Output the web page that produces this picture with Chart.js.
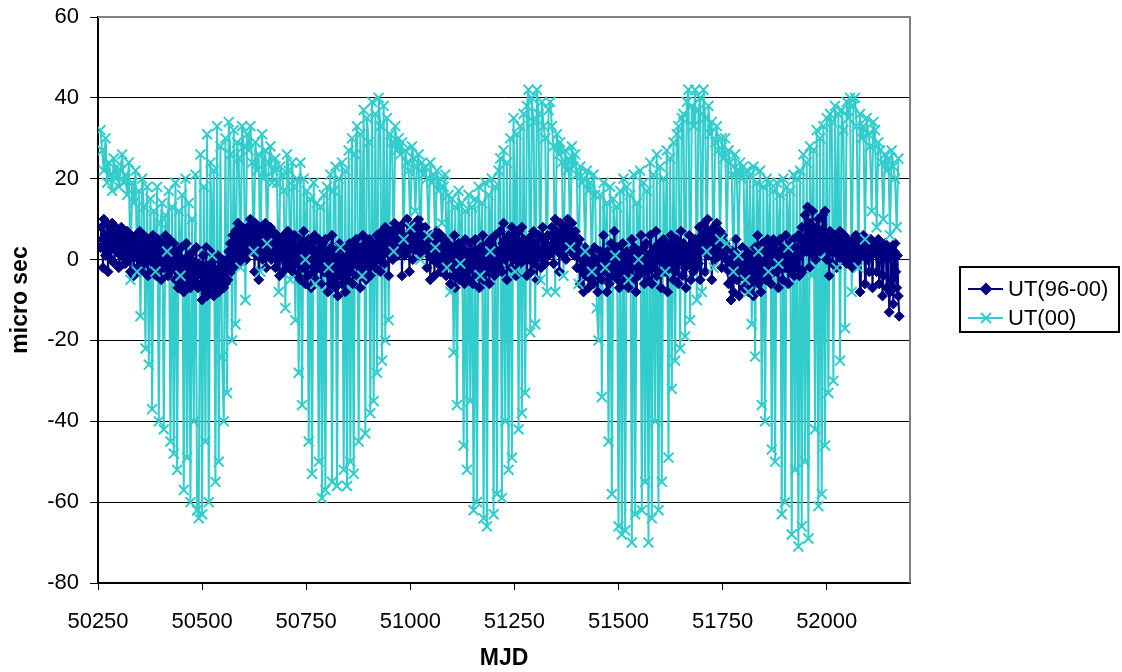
<!DOCTYPE html>
<html>
<head>
<meta charset="utf-8">
<script src="https://cdn.jsdelivr.net/npm/chart.js@4.4.1/dist/chart.umd.min.js"></script>
<style>
    html, body { margin: 0; padding: 0; background: #fff; }
    #wrap { width: 1122px; height: 672px; position: relative; }
</style>
</head>
<body>
<div id="wrap"><canvas id="chart"></canvas></div>
<script>
// Sampling grids (MJD)
const mjdStart = 50256;
const ut9600Step = 2;   // every 2 days
const ut00Step = 4;     // every 4 days

const seriesNames = ['UT(96-00)', 'UT(00)'];
const xTicks = [50250, 50500, 50750, 51000, 51250, 51500, 51750, 52000];
const yTicks = [-80, -60, -40, -20, 0, 20, 40, 60];

// UT(96-00), micro sec (30 values per 60 days)
const ut9600 = [
    3, 8, 5, -2, 10, 4, 1, 6, 9, -3, 2, 7, 5, 0, 9, 3, 6, -1, 8, 2, 4, 7, -2, 5, 1, 8, 3, 6, -1, 4,
    -1, 5, 7, 2, 0, 4, -3, 6, 3, 1, -4, 5, 2, 6, -2, 3, 0, 7, 1, -3, 4, 2, 6, -1, 3, 5, 0, -4, 2, 4,
    3, -3, 1, 6, -1, 4, 2, -4, 0, 5, -2, 3, 1, -5, 4, 0, -2, 2, 6, -1, 3, -4, 1, 5, -3, 0, 2, -1, 4, -2,
    -5, 2, -3, -7, 1, -4, -1, 3, -6, -2, -8, 0, -4, 4, -3, -6, 1, -2, -7, 0, -5, 2, -3, -1, -6, 3, -4, -7, -1, -3,
    -2, -6, -10, 1, -4, -7, -3, 3, -9, -1, -5, -8, 2, -4, -6, -2, -9, 0, -3, -7, -5, 1, -8, -2, -4, -6, 0, -3, -7, -1,
    -6, -3, 0, -5, 2, -1, 4, -3, 1, 6, -2, 3, 7, 0, 5, 9, 2, 6, -1, 4, 8, 1, 5, 3, 7, 0, 4, 8, 2, 6,
    10, 4, 2, 8, 6, -3, 9, 4, 1, 7, -5, 5, 8, 2, 6, 0, 7, 3, 9, -2, 5, 1, 6, 4, 8, 0, 3, 7, 2, 5,
    -2, 4, 6, 0, 3, -4, 5, 1, 2, -3, 6, 0, 4, -1, 3, 7, -2, 2, 5, 0, 4, -3, 1, 6, -1, 3, 0, -4, 2, 5,
    -5, 1, 4, -2, 7, 0, -6, 3, 1, -4, 5, -1, 2, -7, 0, 4, -3, 6, 1, -5, 2, -2, 5, -1, 3, -6, 0, 4, -3, 2,
    5, -3, 0, -8, 2, -4, -6, 3, 6, -2, -5, 1, -7, -3, 2, -9, -1, 4, -4, 0, -6, 3, -2, 1, -8, -3, 2, -5, 0, 4,
    -3, 2, 4, -6, 0, 3, -1, 5, -4, 1, 3, -2, -7, 2, 0, 6, -3, 1, 4, -5, 0, 2, -2, 5, -4, 1, 3, -1, 4, 0,
    -2, 3, 6, 0, 4, 2, -3, 5, 7, 1, 3, -1, 8, 4, 2, 6, -4, 3, 1, 7, 5, 0, 3, 9, 2, 6, 4, 1, 8, 3,
    3, 7, -4, 5, 9, 1, 4, 6, 10, 2, 5, -3, 7, 4, 8, 0, 6, 3, 9, 5, 2, 7, 10, 4, 1, 6, 8, 3, 5, 2,
    8, 3, -2, 5, 1, 4, -5, 6, 2, 0, 3, -4, 5, 2, 7, -1, 4, 1, -3, 6, 0, 3, -2, 5, 1, -4, 2, 4, 0, 1,
    -6, 0, 3, -2, -4, 6, -7, 1, -3, 2, 4, -5, 0, -2, 3, -4, 1, -6, 5, -1, 2, -3, 0, -5, 4, -2, 1, -6, 2, 0,
    5, -1, -4, 2, 0, -7, 3, 1, -2, 6, -5, 2, 0, 3, -3, 4, -1, -6, 1, 5, -2, 0, 3, -4, 6, 1, -3, 2, 0, -2,
    7, 2, -3, 4, 9, 1, 0, 5, -5, 3, 6, 1, 2, -2, 8, 4, 0, 3, 6, -4, 5, 2, 7, 1, -1, 4, 8, 2, 5, 0,
    1, 4, -4, 2, 5, 0, 3, -3, 6, 2, 7, -1, 4, 0, -5, 3, 6, 1, 2, -2, 5, 8, 0, 3, -1, 4, 2, 6, 1, 3,
    2, 6, 8, 3, -1, 5, 10, 4, 7, 2, 6, -3, 9, 5, 3, 7, 1, 4, 8, 0, 6, 10, 3, 5, 7, 2, 9, 4, 6, 1,
    7, 3, -2, 4, 1, 5, -6, 2, 0, -3, -8, 1, 3, -4, -1, 0, -7, 2, -3, -5, 1, -2, -6, 3, -4, -1, 0, -8, -3, -1,
    2, -3, -5, 1, 6, -2, -3, 0, -8, 2, 1, -6, -2, 4, -4, 0, -2, 7, -1, -4, 3, -5, 0, -7, 2, -1, -3, 4, -6, 1,
    -4, 0, 2, -3, -7, 1, 0, -2, 5, -5, 2, 3, -1, -8, 0, 1, -4, 2, -3, 6, -1, -2, 3, -6, 0, 4, -3, 1, -5, 0,
    6, -1, -6, 2, 0, -2, 3, 7, -4, 1, 0, 4, -3, -7, 2, 1, 5, -1, -3, 3, 0, -8, 2, -2, 4, 6, -1, 1, -5, 3,
    -3, 2, 5, -1, -6, 3, 2, 7, 0, -4, 4, 1, -2, -7, 3, 0, 2, 6, -1, -5, 4, 1, -3, 2, 5, -2, 0, 4, -1, 8,
    -5, 2, 6, 4, 2, 9, -3, 5, 7, 10, 1, 6, 3, 7, -5, 4, 8, 2, 0, 6, 9, 3, 5, 1, 7, 4, -2, 6, 3, 2,
    4, 0, -2, 3, -6, -3, 0, -10, -4, 2, -8, -1, -3, 5, -5, 1, -2, -9, -4, 0, -1, 3, -7, -3, 1, -5, 2, -2, -8, 0,
    -7, -2, 1, -4, -9, 0, 3, -2, -5, 6, -6, 1, 0, -8, -3, 4, -1, -3, 2, -5, 0, 5, -4, -1, 3, -6, 1, -2, 5, -3,
    4, -1, -3, 2, -7, 1, 5, -2, -1, -5, 3, 0, -2, 6, 2, 0, -6, 1, 4, -3, 2, -1, 5, -4, 0, 3, 1, -2, 6, -4,
    1, 5, 8, -3, 3, 5, 11, 4, 2, 13, 6, -2, 9, 3, 4, 12, 1, 7, 5, 0, 8, 3, 10, 6, 2, 7, 4, 11, 3, 5,
    12, 4, 0, 6, 3, -4, 7, 2, 3, -1, 5, 6, 2, 4, -2, 6, 1, 4, 7, 2, 0, 5, 3, 6, 1, 4, -1, 5, 2, 3,
    0, 3, 4, -2, 5, 2, 1, 6, 0, -1, 3, 5, -8, 2, 4, 1, 6, 3, -6, 5, 2, 0, 4, -3, 1, 5, 2, -7, 3, 4,
    2, 4, -3, 1, 5, -6, 0, 3, 2, -9, -4, 1, 4, 2, -7, 0, 2, -13, -8, 3, 1, -5, -11, 2, 4, -3, -7, 1, -9, -14
];

// UT(00), micro sec (15 values per 60 days)
const ut00 = [
    32, 27, 22, 30, 19, 24, 21, 17, 25, 20, 23, 18, 22, 26, 19,
    21, 16, 24, -5, 19, 14, 22, -3, 17, -14, 20, 13, -22, 18, -26,
    15, -37, 12, -3, 18, -40, 9, 14, -42, 11, 2, 17, -45, 13, -48,
    19, -52, 12, -4, 16, -57, 20, -49, 14, -60, 10, -40, 21, -62, -64,
    26, -63, 18, -45, 31, -60, 24, 1, 22, -55, 33, -50, 28, -24, -40,
    30, -33, 34, 26, -20, 32, -16, 29, 25, -2, 33, 28, -10, 31, 27,
    33, 24, 2, 29, 22, 26, -3, 31, 20, 27, 4, 24, 28, 19, 22,
    25, 19, -8, 23, 21, 17, -12, 26, 22, -5, 24, 18, -15, 20, -28,
    24, -36, 20, 0, 17, -45, 15, -53, 19, -6, 14, -50, 13, -59, 16,
    -57, 18, -2, 21, -55, 17, 23, -56, 20, 3, 24, -52, 22, -56, 27,
    -50, 30, -53, 26, 33, -45, 31, -4, 37, -43, 35, 29, -38, 39, -35,
    36, -28, 40, 33, -25, 38, -20, 35, -15, 31, 29, 2, 33, 27, 30,
    26, 29, 5, 27, 24, 22, 8, 28, 25, 12, 23, 26, 0, 24, 21,
    23, 20, 6, 24, 19, 21, 3, 22, 17, 20, 9, 18, 21, -2, 16,
    -8, 15, -23, 13, -36, 17, -1, 14, -46, 12, -52, 16, -35, 13, -62,
    15, -60, 18, -4, 14, -64, 19, -66, 16, 2, 20, -63, 18, -58, 22,
    25, -59, 27, -40, 24, -52, 30, -49, 35, -3, 31, -42, 33, -38, 36,
    -33, 38, 42, -18, 40, 34, -16, 42, 36, -5, 39, 33, 30, -8, 37,
    39, 33, 28, -8, 31, 26, 29, 24, -4, 27, 22, 25, 3, 28, 23,
    26, 21, -6, 23, 19, 20, 2, 22, 17, 19, -3, 21, 16, -12, -20,
    16, -34, 19, -2, 14, -45, 18, -58, 15, 1, 13, -66, 17, -68, 20,
    -67, 18, -5, 16, -70, 21, -63, 14, 0, 22, -62, 19, -55, 17, -70,
    24, -64, 21, -40, 26, -62, 23, -55, 20, -3, 27, -49, 25, -32, 29,
    -25, 31, 33, -22, 35, 36, -19, 39, 42, -15, 38, 33, 42, -10, 37,
    40, -8, 42, 35, 2, 38, 31, 34, -2, 29, 33, 27, 5, 30, 25,
    30, 4, 27, 24, 21, -3, 26, 22, 1, 24, 20, 23, -5, 22, -8,
    21, -16, 23, -24, 19, 2, 22, -36, 18, -40, 20, -3, 19, -47, 17,
    -50, 19, -1, 16, -63, 20, -60, 18, 3, 17, -68, 21, -52, 20, -71,
    22, -66, 26, -50, 24, -69, 28, -4, 27, -42, 32, -61, 30, -58, 33,
    -46, 35, -33, 36, 34, -30, 38, -2, 36, -25, 37, 32, -17, 39, 35,
    40, -8, 38, 40, 33, -2, 36, 30, 33, 5, 35, 31, 28, 12, 34,
    32, 8, 29, 27, 24, 10, 26, 22, 25, 6, 27, 23, 20, 8, 25
];

const navy = '#000080';
const cyan = '#33CCCC';

const toPoints = (vals, step) => vals.map((v, i) => ({ x: mjdStart + i * step, y: v }));

Chart.defaults.font.family = '"Liberation Sans", Arial, sans-serif';
Chart.defaults.color = '#000';

// grey plot-area frame on top and right
const plotFrame = {
    id: 'plotFrame',
    beforeDatasetsDraw(chart) {
        const { ctx, chartArea: a } = chart;
        ctx.save();
        ctx.strokeStyle = '#808080';
        ctx.lineWidth = 2;
        ctx.beginPath();
        ctx.moveTo(a.left, a.top);
        ctx.lineTo(a.right, a.top);
        ctx.lineTo(a.right, a.bottom);
        ctx.stroke();
        ctx.restore();
    }
};

// Excel-style legend: line with marker, boxed
const excelLegend = {
    id: 'excelLegend',
    afterDraw(chart) {
        const ctx = chart.ctx;
        ctx.save();
        ctx.lineWidth = 2;
        ctx.strokeStyle = '#000';
        ctx.strokeRect(960, 267, 159, 65);

        const rows = [
            { name: seriesNames[0], color: navy, style: 'rectRot', radius: 5, y: 289 },
            { name: seriesNames[1], color: cyan, style: 'crossRot', radius: 7, y: 318 }
        ];
        rows.forEach(r => {
            ctx.strokeStyle = r.color;
            ctx.fillStyle = r.color;
            ctx.lineWidth = 2;
            ctx.beginPath();
            ctx.moveTo(968, r.y);
            ctx.lineTo(1003, r.y);
            ctx.stroke();
            Chart.helpers.drawPoint(ctx, { pointStyle: r.style, radius: r.radius, rotation: 0, borderWidth: 2 }, 986, r.y);
            ctx.fillStyle = '#000';
            ctx.font = '22px "Liberation Sans", Arial, sans-serif';
            ctx.textBaseline = 'middle';
            ctx.textAlign = 'left';
            ctx.fillText(r.name, 1008, r.y + 1);
        });
        ctx.restore();
    }
};

new Chart(document.getElementById('chart'), {
    type: 'line',
    data: {
        datasets: [
            {
                // UT(00) markers, drawn on top
                label: seriesNames[1] + ' markers',
                data: toPoints(ut00, ut00Step),
                showLine: false,
                pointStyle: 'crossRot',
                pointRadius: 7,
                pointBorderWidth: 2,
                pointBorderColor: cyan,
                pointBackgroundColor: cyan,
                order: 0
            },
            {
                label: seriesNames[0],
                data: toPoints(ut9600, ut9600Step),
                borderColor: navy,
                backgroundColor: navy,
                borderWidth: 2,
                borderJoinStyle: 'round',
                pointStyle: 'rectRot',
                pointRadius: 5,
                pointBorderWidth: 1,
                pointBorderColor: navy,
                pointBackgroundColor: navy,
                tension: 0,
                order: 1
            },
            {
                // UT(00) line, drawn at the bottom
                label: seriesNames[1],
                data: toPoints(ut00, ut00Step),
                borderColor: cyan,
                borderWidth: 2,
                borderJoinStyle: 'round',
                pointRadius: 0,
                tension: 0,
                order: 2
            }
        ]
    },
    options: {
        responsive: true,
        maintainAspectRatio: false,
        animation: false,
        events: [],
        layout: { padding: { left: 0, top: 17, right: 212, bottom: 0 } },
        plugins: {
            legend: { display: false },
            tooltip: { enabled: false }
        },
        scales: {
            x: {
                type: 'linear',
                min: 50250,
                max: 52200,
                afterFit: (scale) => {
                    scale.height = 89;
                    scale.paddingLeft = 0;
                    scale.paddingRight = 0;
                },
                afterBuildTicks: (scale) => { scale.ticks = xTicks.map(v => ({ value: v })); },
                ticks: {
                    stepSize: 250,
                    includeBounds: false,
                    autoSkip: false,
                    maxRotation: 0,
                    padding: 19,
                    font: { size: 22 },
                    callback: (v) => String(v)
                },
                grid: {
                    drawOnChartArea: false,
                    drawTicks: true,
                    tickLength: 7,
                    color: '#000',
                    lineWidth: 1
                },
                border: { display: true, color: '#000', width: 2 },
                title: {
                    display: true,
                    text: 'MJD',
                    font: { size: 23, weight: 'bold' },
                    padding: { top: 0, bottom: 0 }
                }
            },
            y: {
                min: -80,
                max: 60,
                afterFit: (scale) => {
                    scale.width = 98;
                    scale.paddingTop = 0;
                    scale.paddingBottom = 0;
                },
                afterBuildTicks: (scale) => { scale.ticks = yTicks.map(v => ({ value: v })); },
                ticks: {
                    stepSize: 20,
                    padding: 11,
                    font: { size: 22 }
                },
                grid: {
                    drawTicks: true,
                    tickLength: 8,
                    color: '#000',
                    lineWidth: 1
                },
                border: { display: true, color: '#000', width: 2 },
                title: {
                    display: true,
                    text: 'micro sec',
                    font: { size: 23, weight: 'bold' },
                    padding: { top: 7, bottom: 0 }
                }
            }
        }
    },
    plugins: [plotFrame, excelLegend]
});
</script>
</body>
</html>
